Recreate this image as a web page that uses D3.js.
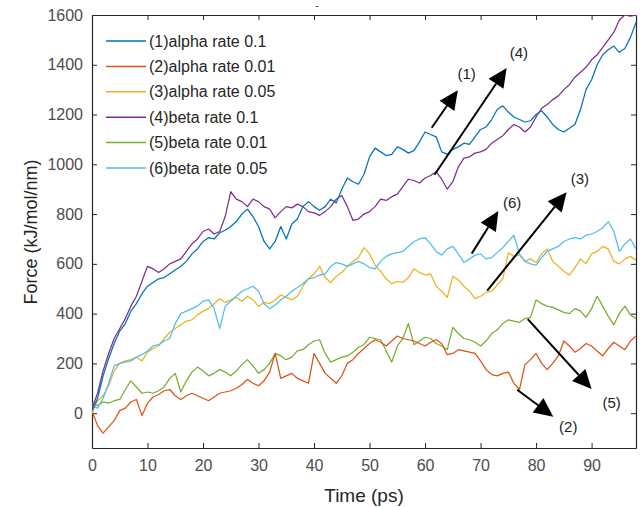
<!DOCTYPE html>
<html>
<head>
<meta charset="utf-8">
<script src="https://cdn.jsdelivr.net/npm/d3@7"></script>
<style>
  body { margin: 0; background: #fff; }
  text { font-family: "Liberation Sans", Arial, sans-serif; }
</style>
</head>
<body>
<div id="chart"></div>
<script>
var time = d3.range(0, 99);

// (1) alpha rate 0.1
var alpha01 = [10,60,150,220,280,330,360,410,440,480,510,525,540,545,560,575,590,610,640,660,
  690,705,700,725,735,750,770,800,820,790,750,690,660,690,750,700,760,780,830,850,
  830,815,830,860,845,900,945,930,920,960,1030,1065,1050,1035,1040,1070,1060,1045,1055,1090,
  1130,1120,1110,1050,1040,1060,1070,1085,1080,1110,1140,1150,1180,1220,1235,1210,1190,1180,1170,1175,
  1200,1215,1190,1160,1140,1130,1145,1160,1220,1300,1340,1400,1440,1460,1475,1450,1465,1510,1570];
// (2) alpha rate 0.01
var alpha001 = [10,-50,-80,-55,-30,10,20,45,55,-10,40,65,75,90,95,70,55,70,80,70,
  60,50,65,80,85,90,100,115,135,120,110,130,165,240,140,150,160,140,130,120,
  240,200,160,140,120,150,200,215,240,260,280,295,285,270,290,310,300,295,290,280,
  270,285,295,280,235,240,255,250,245,240,210,175,155,150,160,165,120,95,195,215,
  240,200,175,200,230,290,270,245,260,280,270,250,230,260,285,270,255,290,310];
// (3) alpha rate 0.05
var alpha005 = [0,50,70,110,170,200,210,215,225,210,245,260,270,300,325,340,355,370,375,395,
  410,420,440,460,445,455,465,450,470,455,430,445,440,455,475,465,455,470,510,540,
  560,590,545,525,550,565,590,610,625,665,640,595,570,540,520,530,525,545,580,565,
  555,560,510,490,465,550,535,510,490,460,470,485,490,515,540,645,630,635,610,620,
  605,640,660,610,590,570,555,585,620,600,640,650,670,660,610,600,620,630,615];
// (4) beta rate 0.1
var beta01 = [20,80,170,240,300,340,380,430,470,530,590,580,565,580,600,610,620,650,680,700,
  730,740,720,730,790,890,860,850,830,860,850,830,820,785,810,830,825,840,830,810,
  805,795,810,830,860,875,830,775,780,800,810,830,860,855,870,880,910,940,935,925,
  945,955,970,940,900,930,990,1025,1030,1045,1050,1060,1085,1100,1115,1140,1160,1150,1130,1150,
  1190,1225,1240,1260,1275,1300,1320,1350,1370,1390,1420,1440,1470,1500,1530,1580,1600,1595,1600];
// (5) beta rate 0.01
var beta001 = [40,30,45,40,50,55,95,130,105,80,85,80,90,105,140,160,85,130,165,185,
  170,150,160,175,165,150,170,195,215,190,160,175,200,240,230,215,225,250,255,275,
  290,295,240,205,215,225,230,245,265,275,305,300,295,250,205,270,300,360,275,290,
  305,300,280,270,255,345,320,300,295,285,270,290,320,335,360,375,370,365,380,385,
  455,440,430,425,415,405,400,420,410,385,420,470,430,390,355,400,430,395,380];
// (6) beta rate 0.05
var beta005 = [30,20,60,120,190,200,205,210,225,235,250,270,275,290,300,360,400,410,420,430,
  450,455,420,340,430,450,470,490,500,510,490,440,420,435,455,470,490,505,520,540,
  545,555,560,590,605,600,590,600,610,600,585,580,610,630,640,645,650,670,690,700,
  705,680,650,635,660,670,640,605,620,635,640,620,625,645,665,690,715,640,610,600,
  595,625,650,660,670,690,700,705,700,715,720,730,745,770,730,650,680,700,660];

var seriesNames = ["(1)alpha rate 0.1", "(2)alpha rate 0.01", "(3)alpha rate 0.05",
  "(4)beta rate 0.1", "(5)beta rate 0.01", "(6)beta rate 0.05"];
var seriesValues = [alpha01, alpha001, alpha005, beta01, beta001, beta005];
var seriesColors = ["#0072BD", "#D95319", "#EDB120", "#7E2F8E", "#77AC30", "#4DBEEE"];
// draw order: later ones on top
var drawOrder = [4, 1, 2, 5, 3, 0];

var xTicks = [0, 10, 20, 30, 40, 50, 60, 70, 80, 90];
var yTicks = [0, 200, 400, 600, 800, 1000, 1200, 1400, 1600];

// arrow annotations: tail (t, v) -> head (t, v), label position
var arrowLabels = ["(1)", "(4)", "(6)", "(3)", "(5)", "(2)"];
var arrowFrom = [[61.2, 1147], [61.7, 958], [68.4, 641], [71.2, 492], [78.5, 378], [76.6, 94]];
var arrowTo = [[65.9, 1298], [74.7, 1387], [73.2, 812], [85.5, 888], [90.0, 97], [83.1, -14]];
var labelAt = [[67.5, 1365], [76.9, 1447], [75.7, 847], [87.9, 942], [93.6, 43], [85.8, -54]];

var svgWidth = 640;
var svgHeight = 507;
var margin = { top: 15, right: 4, bottom: 59, left: 92 };
var width = svgWidth - margin.left - margin.right;
var height = svgHeight - margin.top - margin.bottom;

var svg = d3.select("#chart")
  .append("svg")
  .attr("width", svgWidth)
  .attr("height", svgHeight);

var chartGroup = svg.append("g")
  .attr("transform", `translate(${margin.left}, ${margin.top})`);

var xLinear = d3.scaleLinear().domain([0, 98]).range([0, width]);
var yLinear = d3.scaleLinear().domain([-140, 1600]).range([height, 0]);

svg.append("defs").append("clipPath").attr("id", "plotClip")
  .append("rect").attr("width", width).attr("height", height);

// axes (MATLAB style, ticks inside, box)
var axisColor = "#262626";
var tickText = "#4d4d4d";

var xAxis = chartGroup.append("g")
  .attr("transform", `translate(0, ${height})`)
  .call(d3.axisBottom(xLinear).tickValues(xTicks).tickSizeInner(-5).tickSizeOuter(0).tickPadding(12));
var yAxis = chartGroup.append("g")
  .call(d3.axisLeft(yLinear).tickValues(yTicks).tickFormat(d3.format("d"))
    .tickSizeInner(-5).tickSizeOuter(0).tickPadding(9));
var xTop = chartGroup.append("g")
  .call(d3.axisTop(xLinear).tickValues(xTicks).tickSizeInner(-5).tickSizeOuter(0).tickFormat(""));
var yRight = chartGroup.append("g")
  .attr("transform", `translate(${width}, 0)`)
  .call(d3.axisRight(yLinear).tickValues(yTicks).tickSizeInner(-5).tickSizeOuter(0).tickFormat(""));

[xAxis, yAxis, xTop, yRight].forEach(function(ax) {
  ax.select(".domain").attr("stroke", axisColor).attr("stroke-width", 1.2);
  ax.selectAll(".tick line").attr("stroke", axisColor);
  ax.selectAll(".tick text").attr("fill", tickText).style("font-size", "16px");
});

// series lines
var line = d3.line()
  .x((d, i) => xLinear(time[i]))
  .y(d => yLinear(d));

var linesGroup = chartGroup.append("g").attr("clip-path", "url(#plotClip)");
drawOrder.forEach(function(k) {
  linesGroup.append("path")
    .datum(seriesValues[k])
    .attr("d", line)
    .attr("fill", "none")
    .attr("stroke", seriesColors[k])
    .attr("stroke-width", 1.25)
    .attr("stroke-linejoin", "round");
});

// arrows with big filled heads
var headLen = 19;
var headHalf = 9;
arrowFrom.forEach(function(a, i) {
  var x1 = xLinear(a[0]), y1 = yLinear(a[1]);
  var x2 = xLinear(arrowTo[i][0]), y2 = yLinear(arrowTo[i][1]);
  var dx = x2 - x1, dy = y2 - y1;
  var len = Math.sqrt(dx * dx + dy * dy);
  var ux = dx / len, uy = dy / len;
  var bx = x2 - ux * headLen, by = y2 - uy * headLen;
  chartGroup.append("line")
    .attr("x1", x1).attr("y1", y1)
    .attr("x2", bx).attr("y2", by)
    .attr("stroke", "#000")
    .attr("stroke-width", 2);
  chartGroup.append("path")
    .attr("d", `M${x2},${y2}L${bx - uy * headHalf},${by + ux * headHalf}L${bx + uy * headHalf},${by - ux * headHalf}Z`)
    .attr("fill", "#000");
  chartGroup.append("text")
    .attr("x", xLinear(labelAt[i][0]))
    .attr("y", yLinear(labelAt[i][1]))
    .attr("dy", "0.35em")
    .attr("text-anchor", "middle")
    .style("font-size", "15px")
    .attr("fill", "#222")
    .text(arrowLabels[i]);
});

// legend
var legend = chartGroup.append("g").attr("transform", "translate(14, 26)");
seriesNames.forEach(function(name, i) {
  var row = legend.append("g").attr("transform", `translate(0, ${i * 25.4})`);
  row.append("line")
    .attr("x1", 0).attr("x2", 40)
    .attr("stroke", seriesColors[i]).attr("stroke-width", 1.5);
  row.append("text")
    .attr("x", 43).attr("dy", "0.35em")
    .style("font-size", "16px")
    .attr("fill", "#262626")
    .text(name);
});

// axis labels
svg.append("text")
  .attr("x", margin.left + width / 2)
  .attr("y", 502)
  .attr("text-anchor", "middle")
  .style("font-size", "19px")
  .attr("fill", "#262626")
  .text("Time (ps)");

svg.append("text")
  .attr("transform", "rotate(-90)")
  .attr("x", -232)
  .attr("y", 37)
  .attr("text-anchor", "middle")
  .style("font-size", "18px")
  .attr("fill", "#262626")
  .text("Force (kJ/mol/nm)");

svg.append("text")
  .attr("x", 317).attr("y", 9)
  .attr("text-anchor", "middle")
  .style("font-size", "10px")
  .attr("fill", "#262626")
  .text("-");
</script>
</body>
</html>
